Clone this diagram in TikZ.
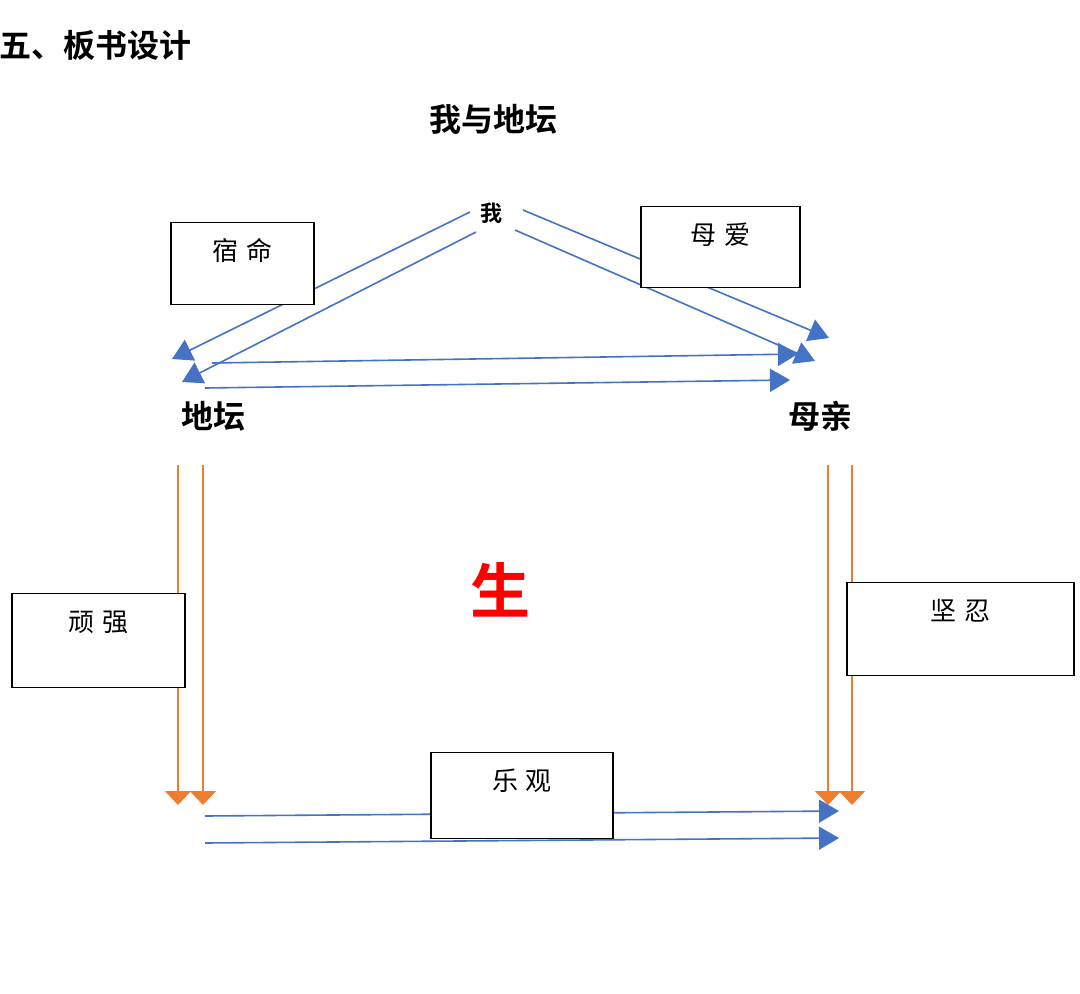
\documentclass[tikz,border=0pt]{standalone}
\usepackage{fontspec}
\usepackage{tikz}
\usetikzlibrary{arrows.meta}
\newfontfamily\cjk{Noto Sans CJK SC}
\newfontfamily\cjkbold{Noto Sans CJK SC Bold}
\definecolor{sininen}{HTML}{4472C4}
\definecolor{oranssi}{HTML}{ED7D31}

\begin{document}
\begin{tikzpicture}[x=1pt,y=-1pt,
    box/.style={draw,fill=white,line width=1.3pt,anchor=north,inner ysep=17.6pt,
      text height=20pt,font=\cjk\fontsize{26}{26}\selectfont},
    bigtext/.style={font=\cjkbold\fontsize{32}{32}\selectfont,inner sep=0pt},
    sinnuoli/.style={draw=sininen,line width=1.6pt,-{Triangle[length=20pt,width=23pt]}},
    onuoli/.style={draw=oranssi,line width=1.6pt,-{Triangle[length=14pt,width=26pt]}}]
  \useasboundingbox[fill=white] (0,0) rectangle (1080,994);

  \node[bigtext,anchor=west] (otsikko) at (-1,45) {五、板书设计};
  \node[bigtext] (aihe) at (493,119) {我与地坛};
  \node[bigtext,font=\cjkbold\fontsize{22}{22}\selectfont] (wo) at (491,213) {我};
  \node[bigtext,font=\cjkbold\fontsize{32}{32}\selectfont] (ditan) at (213,416) {地坛};
  \node[bigtext,font=\cjkbold\fontsize{32}{32}\selectfont] (muqin) at (820,416) {母亲};
  \node[font=\cjkbold\fontsize{60}{60}\selectfont,text=red,inner sep=0pt] (sheng) at (500,590) {生};

  % 我 -> 地坛, 我 -> 母亲
  \coordinate (wo-a) at (470,212);
  \coordinate (wo-b) at (476,232);
  \coordinate (wo-c) at (523,210);
  \coordinate (wo-d) at (515,230);
  \coordinate (ditan-a) at (172,359);
  \coordinate (ditan-b) at (182,382);
  \coordinate (muqin-c) at (829,338);
  \coordinate (muqin-d) at (815,361);
  % 地坛 -> 母亲
  \coordinate (ditan-h1) at (212,363);
  \coordinate (ditan-h2) at (205,388);
  \coordinate (muqin-h1) at (798,354);
  \coordinate (muqin-h2) at (790,380);
  % alas
  \coordinate (ditan-l1) at (178,465);
  \coordinate (ditan-l2) at (203,465);
  \coordinate (muqin-r1) at (828,465);
  \coordinate (muqin-r2) at (852,465);
  \coordinate (ala-l1) at (178,805);
  \coordinate (ala-l2) at (203,805);
  \coordinate (ala-r1) at (828,805);
  \coordinate (ala-r2) at (852,805);
  \coordinate (ala-b1) at (205,816);
  \coordinate (ala-b2) at (205,843);
  \coordinate (loppu-b1) at (839,811);
  \coordinate (loppu-b2) at (839,838);

  \path[onuoli] (ditan-l1) -- (ala-l1);
  \path[onuoli] (ditan-l2) -- (ala-l2);
  \path[onuoli] (muqin-r1) -- (ala-r1);
  \path[onuoli] (muqin-r2) -- (ala-r2);

  \path[sinnuoli] (wo-a) -- (ditan-a);
  \path[sinnuoli] (wo-b) -- (ditan-b);
  \path[sinnuoli] (wo-c) -- (muqin-c);
  \path[sinnuoli] (wo-d) -- (muqin-d);
  \path[sinnuoli] (ditan-h1) -- (muqin-h1);
  \path[sinnuoli] (ditan-h2) -- (muqin-h2);
  \path[sinnuoli] (ala-b1) -- (loppu-b1);
  \path[sinnuoli] (ala-b2) -- (loppu-b2);

  \node[box,minimum width=143pt,text depth=26.8pt] (suming) at (242.5,222) {宿\hspace{.3em}命};
  \node[box,minimum width=159pt,text depth=25.8pt] (muai) at (720.5,206) {母\hspace{.3em}爱};
  \node[box,minimum width=173pt,text depth=38.8pt] (wanqiang) at (98.5,593) {顽\hspace{.3em}强};
  \node[box,minimum width=227pt,text depth=37.8pt] (jianren) at (960.5,582) {坚\hspace{.3em}忍};
  \node[box,minimum width=182pt,text depth=30.8pt] (leguan) at (522,752) {乐\hspace{.3em}观};
\end{tikzpicture}
\end{document}
